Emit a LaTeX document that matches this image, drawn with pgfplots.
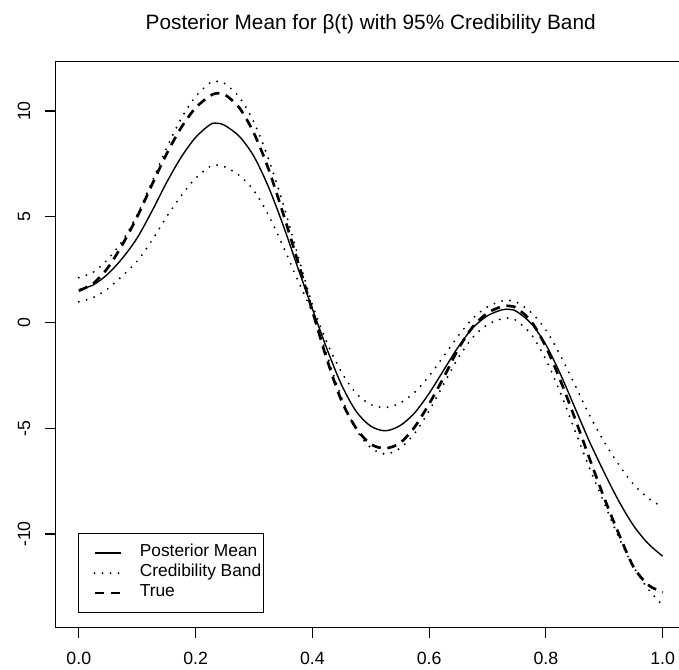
\documentclass[border=0pt]{standalone}
\usepackage{fontspec}
\setmainfont{Liberation Sans}
\usepackage{pgfplots}
\pgfplotsset{compat=1.18}
\usepackage{pgfplotstable}

\pgfplotstableread{
t      m      tr     up     lo
0.000  1.55   1.50   2.12   0.98
0.025  1.78   1.85   2.38   1.18
0.050  2.30   2.60   3.00   1.60
0.075  3.05   3.70   3.88   2.22
0.100  4.00   5.00   5.10   2.90
0.125  5.25   6.50   6.63   3.87
0.150  6.60   7.95   8.22   4.98
0.175  7.80   9.20   9.62   5.98
0.200  8.75   10.15  10.68  6.82
0.225  9.36   10.72  11.34  7.38
0.2375 9.42   10.84  11.40  7.44
0.250  9.32   10.78  11.30  7.36
0.275  8.80   10.15  10.65  6.95
0.300  7.85   8.95   9.47   6.23
0.325  6.40   7.25   7.73   5.07
0.350  4.60   5.15   5.60   3.60
0.375  2.60   2.90   3.20   2.00
0.400  0.65   0.55   0.85   0.45
0.425  -1.25  -1.75  -0.95  -1.55
0.450  -2.95  -3.70  -2.35  -3.55
0.475  -4.20  -5.00  -3.35  -5.05
0.500  -4.90  -5.75  -3.88  -5.92
0.525  -5.12  -5.95  -4.02  -6.22
0.550  -4.88  -5.70  -3.81  -5.95
0.575  -4.28  -4.95  -3.31  -5.25
0.600  -3.35  -3.85  -2.53  -4.17
0.625  -2.25  -2.60  -1.59  -2.91
0.650  -1.15  -1.25  -0.63  -1.67
0.675  -0.25  -0.20  0.20   -0.70
0.700  0.32   0.45   0.74   -0.10
0.725  0.60   0.76   1.02   0.18
0.7375 0.62   0.78   1.04   0.20
0.750  0.52   0.68   0.96   0.08
0.775  -0.05  0.05   0.47   -0.57
0.800  -1.05  -1.15  -0.35  -1.75
0.825  -2.45  -2.75  -1.57  -3.33
0.850  -4.05  -4.55  -2.97  -5.13
0.875  -5.65  -6.45  -4.40  -6.90
0.900  -7.10  -8.30  -5.65  -8.55
0.925  -8.45  -10.00 -6.73  -10.17
0.950  -9.60  -11.55 -7.65  -11.55
0.975  -10.45 -12.40 -8.30  -12.60
1.000  -11.05 -12.76 -8.73  -13.37
}\data

\begin{document}
\begin{tikzpicture}
\begin{axis}[
  at={(41.6pt,31.9pt)}, anchor=south west,
  scale only axis, width=472.9pt, height=424.3pt,
  xmin=-0.04, xmax=1.04, ymin=-14.42, ymax=12.33,
  axis line style={line width=0.9pt},
  xtick={0,0.2,0.4,0.6,0.8,1}, xticklabels={0.0,0.2,0.4,0.6,0.8,1.0},
  ytick={-10,-5,0,5,10}, yticklabels={-10,-5,0,5,10},
  tick align=outside, xtick pos=bottom, ytick pos=left,
  major tick length=7.9pt, tick style={line width=0.9pt, black},
  ticklabel style={font=\fontsize{13.3}{15}\selectfont},
  xticklabel style={anchor=base, yshift=-20.1pt},
  yticklabel style={anchor=base, xshift=-11.2pt, rotate=90},
  title={Posterior Mean for β(t) with 95\% Credibility Band},
  title style={at={(0.5,1)}, anchor=base, yshift=18.5pt, font=\fontsize{15.6}{18}\selectfont},
  legend image code/.code={\path (-9.5pt,0pt); \draw[#1] (0pt,0pt) -- (19.5pt,0pt);},
  legend style={at={(0.0357,0.0256)}, anchor=south west, draw=black, line width=0.8pt,
    fill=white, font=\fontsize{13}{15}\selectfont, inner xsep=1.5pt, inner ysep=7pt,
    column sep=13.5pt, row sep=0pt,
    nodes={inner sep=0pt, text height=10pt, text depth=5pt},
    cells={anchor=west}},
]
\addplot[black, line width=1.05pt, smooth, tension=0.5] table[x=t,y=m]{\data};
\addlegendentry{Posterior Mean}
\addplot[black, line width=1.6pt, line cap=round, dash pattern=on 0pt off 6pt, smooth, tension=0.5] table[x=t,y=up]{\data};
\addlegendentry{Credibility Band}
\addplot[black, line width=1.6pt, line cap=round, dash pattern=on 0pt off 6pt, smooth, tension=0.5, forget plot] table[x=t,y=lo]{\data};
\addplot[black, line width=2pt, dash pattern=on 7pt off 5pt, smooth, tension=0.5] table[x=t,y=tr]{\data};
\addlegendentry{True}
\end{axis}
\pgfresetboundingbox
\path[use as bounding box] (0pt,0pt) rectangle (509.25pt,502.5pt);
\end{tikzpicture}
\end{document}
